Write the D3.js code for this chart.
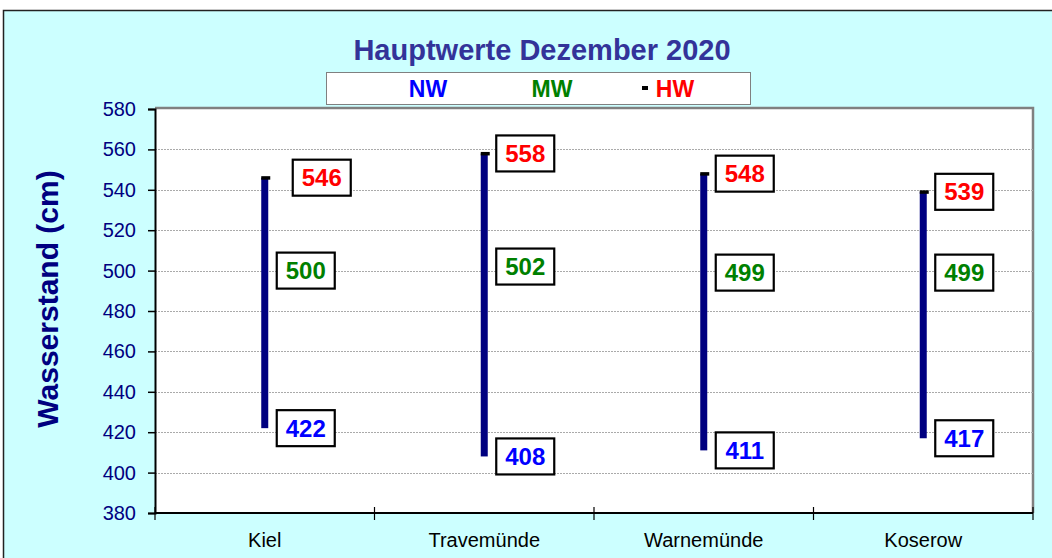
<!DOCTYPE html>
<html>
<head>
<meta charset="utf-8">
<script src="https://cdn.jsdelivr.net/npm/d3@7"></script>
<style>
  html, body { margin: 0; padding: 0; background: #fff; }
  svg { display: block; font-family: Arial, "Liberation Sans", sans-serif; }
</style>
</head>
<body>
<svg id="chart" width="1052" height="558"></svg>
<script>
// Stations and monthly main values (cm)
const stations = ["Kiel", "Travemünde", "Warnemünde", "Koserow"];
const nwValues = [422, 408, 411, 417];
const mwValues = [500, 502, 499, 499];
const hwValues = [546, 558, 548, 539];
const yTicks = [380, 400, 420, 440, 460, 480, 500, 520, 540, 560, 580];

const svg = d3.select("#chart");

// plot frame
const plot = { left: 155, right: 1033, top: 109, bottom: 513 };

// background + outer border
svg.append("rect")
  .attr("x", 3.5).attr("y", 10.5)
  .attr("width", 1060).attr("height", 560)
  .attr("fill", "#ccffff")
  .attr("stroke", "#222").attr("stroke-width", 1.5);

const x = d3.scaleBand()
  .domain(stations)
  .range([plot.left, plot.right])
  .padding(0);

const y = d3.scaleLinear()
  .domain([380, 580])
  .range([plot.bottom, plot.top]);

// plot area
svg.append("rect")
  .attr("x", plot.left).attr("y", plot.top)
  .attr("width", plot.right - plot.left)
  .attr("height", plot.bottom - plot.top)
  .attr("fill", "#fff");

// gray shadow border top/right
svg.append("path")
  .attr("d", `M${plot.left},${plot.top - 1}H${plot.right}V${plot.bottom}`)
  .attr("fill", "none")
  .attr("stroke", "#808080")
  .attr("stroke-width", 2.5);

// grid lines
svg.append("g")
  .selectAll("line")
  .data(yTicks.filter(d => d > 380 && d < 580))
  .enter().append("line")
  .attr("x1", plot.left).attr("x2", plot.right)
  .attr("y1", d => Math.round(y(d)) + 0.5)
  .attr("y2", d => Math.round(y(d)) + 0.5)
  .attr("stroke", "#aaa")
  .attr("stroke-width", 1)
  .attr("stroke-dasharray", "2,1");

// y axis
const yAxis = svg.append("g")
  .attr("transform", `translate(${plot.left},0)`)
  .call(d3.axisLeft(y).tickValues(yTicks).tickSize(7).tickPadding(12));
yAxis.select(".domain").attr("stroke", "#000").attr("stroke-width", 2);
yAxis.selectAll(".tick line").attr("stroke", "#000").attr("stroke-width", 1.5);
yAxis.selectAll(".tick text")
  .attr("fill", "#000080")
  .style("font-size", "20px")
  .style("font-family", "Arial, 'Liberation Sans', sans-serif");

// x axis (ticks at category boundaries)
const xAxisG = svg.append("g")
  .attr("transform", `translate(0,${plot.bottom})`);
xAxisG.append("line")
  .attr("x1", plot.left).attr("x2", plot.right)
  .attr("stroke", "#000").attr("stroke-width", 2);
const boundaries = stations.map(s => x(s)).concat([x(stations[stations.length - 1]) + x.bandwidth()]);
xAxisG.selectAll("line.tick")
  .data(boundaries)
  .enter().append("line")
  .attr("class", "tick")
  .attr("x1", d => d).attr("x2", d => d)
  .attr("y1", -6).attr("y2", 7)
  .attr("stroke", "#000").attr("stroke-width", 1.2);
xAxisG.selectAll("text")
  .data(stations)
  .enter().append("text")
  .attr("x", d => x(d) + x.bandwidth() / 2)
  .attr("y", 34)
  .attr("text-anchor", "middle")
  .attr("fill", "#000")
  .style("font-size", "20px")
  .text(d => d);

// range bars NW -> HW
const barW = 7;
const cx = d => x(d) + x.bandwidth() / 2;
svg.append("g")
  .selectAll("rect")
  .data(stations)
  .enter().append("rect")
  .attr("x", d => cx(d) - barW / 2)
  .attr("y", (d, i) => y(hwValues[i]))
  .attr("width", barW)
  .attr("height", (d, i) => y(nwValues[i]) - y(hwValues[i]))
  .attr("fill", "#000080");

// HW marker (black cap)
svg.append("g")
  .selectAll("rect")
  .data(stations)
  .enter().append("rect")
  .attr("x", d => cx(d) - barW / 2)
  .attr("y", (d, i) => y(hwValues[i]) - 1.5)
  .attr("width", barW + 2)
  .attr("height", 3.5)
  .attr("fill", "#000");

// value labels
const boxW = 58, boxH = 36, labelGap = 12;
const hwNudge = { "Kiel": 16 };
function drawLabels(values, color, nudge) {
  const g = svg.append("g")
    .selectAll("g")
    .data(stations)
    .enter().append("g")
    .attr("transform", (d, i) =>
      `translate(${cx(d) + labelGap + ((nudge && nudge[d]) || 0)},${y(values[i]) - boxH / 2})`);
  g.append("rect")
    .attr("width", boxW).attr("height", boxH)
    .attr("fill", "#fff")
    .attr("stroke", "#000").attr("stroke-width", 2.2);
  g.append("text")
    .attr("x", boxW / 2).attr("y", boxH / 2)
    .attr("dy", "0.36em")
    .attr("text-anchor", "middle")
    .attr("fill", color)
    .style("font-size", "24px")
    .style("font-weight", "bold")
    .text((d, i) => values[i]);
}
drawLabels(hwValues, "#ff0000", hwNudge);
drawLabels(mwValues, "#008000");
drawLabels(nwValues, "#0000ff");

// title
svg.append("text")
  .attr("x", 542).attr("y", 60)
  .attr("text-anchor", "middle")
  .attr("fill", "#333399")
  .style("font-size", "29px")
  .style("font-weight", "bold")
  .text("Hauptwerte Dezember 2020");

// legend
const legend = svg.append("g");
legend.append("rect")
  .attr("x", 326.5).attr("y", 72.5)
  .attr("width", 424).attr("height", 32)
  .attr("fill", "#fff")
  .attr("stroke", "#808080").attr("stroke-width", 1);
const legendItems = [
  { label: "NW", color: "#0000ff", x: 428 },
  { label: "MW", color: "#008000", x: 552 },
  { label: "HW", color: "#ff0000", x: 675 }
];
legend.selectAll("text")
  .data(legendItems)
  .enter().append("text")
  .attr("x", d => d.x).attr("y", 97)
  .attr("text-anchor", "middle")
  .attr("fill", d => d.color)
  .style("font-size", "23px")
  .style("font-weight", "bold")
  .text(d => d.label);
legend.append("rect")
  .attr("x", 642).attr("y", 86)
  .attr("width", 6).attr("height", 4)
  .attr("fill", "#000");

// y axis title
svg.append("text")
  .attr("transform", `translate(58,${(plot.top + plot.bottom) / 2 - 12}) rotate(-90)`)
  .attr("text-anchor", "middle")
  .attr("fill", "#000080")
  .style("font-size", "30px")
  .style("font-weight", "bold")
  .text("Wasserstand (cm)");
</script>
</body>
</html>
